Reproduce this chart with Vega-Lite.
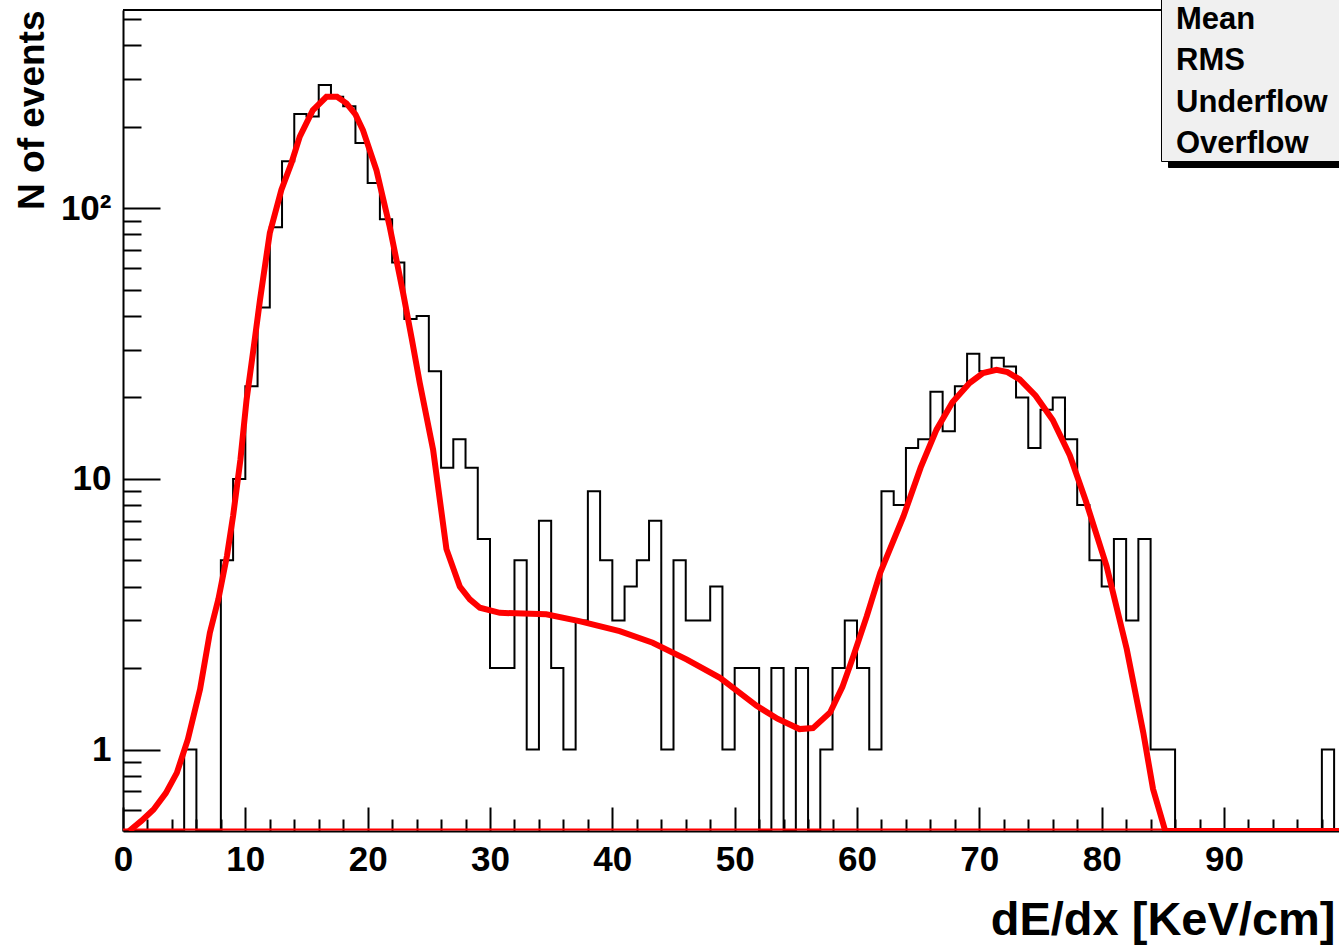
{
  "$schema": "https://vega.github.io/schema/vega-lite/v6.json",
  "width": 1216,
  "height": 821,
  "autosize": {"type": "none"},
  "padding": {"left": 123, "top": 10, "right": 0, "bottom": 115},
  "background": "white",
  "config": {"view": {"stroke": null}, "font": "Liberation Sans"},
  "datasets": {
    "hist": [
      {"x": 0, "n": 0}, {"x": 1, "n": 0}, {"x": 2, "n": 0}, {"x": 3, "n": 0}, {"x": 4, "n": 0},
      {"x": 5, "n": 1}, {"x": 6, "n": 0}, {"x": 7, "n": 0}, {"x": 8, "n": 5}, {"x": 9, "n": 10},
      {"x": 10, "n": 22}, {"x": 11, "n": 43}, {"x": 12, "n": 85}, {"x": 13, "n": 149}, {"x": 14, "n": 223},
      {"x": 15, "n": 218}, {"x": 16, "n": 285}, {"x": 17, "n": 258}, {"x": 18, "n": 238}, {"x": 19, "n": 174},
      {"x": 20, "n": 124}, {"x": 21, "n": 91}, {"x": 22, "n": 63}, {"x": 23, "n": 39}, {"x": 24, "n": 40},
      {"x": 25, "n": 25}, {"x": 26, "n": 11}, {"x": 27, "n": 14}, {"x": 28, "n": 11}, {"x": 29, "n": 6},
      {"x": 30, "n": 2}, {"x": 31, "n": 2}, {"x": 32, "n": 5}, {"x": 33, "n": 1}, {"x": 34, "n": 7},
      {"x": 35, "n": 2}, {"x": 36, "n": 1}, {"x": 37, "n": 3}, {"x": 38, "n": 9}, {"x": 39, "n": 5},
      {"x": 40, "n": 3}, {"x": 41, "n": 4}, {"x": 42, "n": 5}, {"x": 43, "n": 7}, {"x": 44, "n": 1},
      {"x": 45, "n": 5}, {"x": 46, "n": 3}, {"x": 47, "n": 3}, {"x": 48, "n": 4}, {"x": 49, "n": 1},
      {"x": 50, "n": 2}, {"x": 51, "n": 2}, {"x": 52, "n": 0}, {"x": 53, "n": 2}, {"x": 54, "n": 0},
      {"x": 55, "n": 2}, {"x": 56, "n": 0}, {"x": 57, "n": 1}, {"x": 58, "n": 2}, {"x": 59, "n": 3},
      {"x": 60, "n": 2}, {"x": 61, "n": 1}, {"x": 62, "n": 9}, {"x": 63, "n": 8}, {"x": 64, "n": 13},
      {"x": 65, "n": 14}, {"x": 66, "n": 21}, {"x": 67, "n": 15}, {"x": 68, "n": 22}, {"x": 69, "n": 29},
      {"x": 70, "n": 25}, {"x": 71, "n": 28}, {"x": 72, "n": 26}, {"x": 73, "n": 20}, {"x": 74, "n": 13},
      {"x": 75, "n": 18}, {"x": 76, "n": 20}, {"x": 77, "n": 14}, {"x": 78, "n": 8}, {"x": 79, "n": 5},
      {"x": 80, "n": 4}, {"x": 81, "n": 6}, {"x": 82, "n": 3}, {"x": 83, "n": 6}, {"x": 84, "n": 1},
      {"x": 85, "n": 1}, {"x": 86, "n": 0}, {"x": 87, "n": 0}, {"x": 88, "n": 0}, {"x": 89, "n": 0},
      {"x": 90, "n": 0}, {"x": 91, "n": 0}, {"x": 92, "n": 0}, {"x": 93, "n": 0}, {"x": 94, "n": 0},
      {"x": 95, "n": 0}, {"x": 96, "n": 0}, {"x": 97, "n": 0}, {"x": 98, "n": 1}, {"x": 99, "n": 0}
    ],
    "fit": [
      {"x": 0.5, "f": 0.5}, {"x": 1.5, "f": 0.545}, {"x": 2.5, "f": 0.6}, {"x": 3.5, "f": 0.69},
      {"x": 4.4, "f": 0.82}, {"x": 5.3, "f": 1.09}, {"x": 6.3, "f": 1.67}, {"x": 7.1, "f": 2.7},
      {"x": 7.8, "f": 3.6}, {"x": 8.5, "f": 5.2}, {"x": 9.0, "f": 7.3}, {"x": 9.6, "f": 11.8},
      {"x": 10.1, "f": 19.6}, {"x": 10.7, "f": 31}, {"x": 11.2, "f": 45.9}, {"x": 12.0, "f": 81},
      {"x": 12.95, "f": 117}, {"x": 13.77, "f": 147}, {"x": 14.45, "f": 184}, {"x": 15.51, "f": 230},
      {"x": 16.63, "f": 258}, {"x": 17.5, "f": 258}, {"x": 18.27, "f": 244}, {"x": 19.0, "f": 222},
      {"x": 19.62, "f": 194}, {"x": 20.72, "f": 138}, {"x": 21.8, "f": 85.5}, {"x": 22.9, "f": 48.6},
      {"x": 23.6, "f": 33}, {"x": 24.26, "f": 22.6}, {"x": 25.35, "f": 12.8}, {"x": 26.44, "f": 5.5},
      {"x": 27.53, "f": 4.0}, {"x": 28.35, "f": 3.59}, {"x": 29.17, "f": 3.34}, {"x": 30.8, "f": 3.2},
      {"x": 34.6, "f": 3.16}, {"x": 37.3, "f": 2.98}, {"x": 40.6, "f": 2.74}, {"x": 43.3, "f": 2.48},
      {"x": 46.1, "f": 2.15}, {"x": 48.8, "f": 1.84}, {"x": 51.8, "f": 1.45}, {"x": 53.5, "f": 1.3},
      {"x": 55.3, "f": 1.19}, {"x": 56.4, "f": 1.2}, {"x": 57.8, "f": 1.37}, {"x": 58.8, "f": 1.7},
      {"x": 59.7, "f": 2.21}, {"x": 60.8, "f": 3.11}, {"x": 61.9, "f": 4.5}, {"x": 63.8, "f": 7.28},
      {"x": 65.2, "f": 11}, {"x": 66.5, "f": 15.2}, {"x": 67.8, "f": 19.2}, {"x": 69.2, "f": 22.6},
      {"x": 70.3, "f": 24.6}, {"x": 71.4, "f": 25.3}, {"x": 72.3, "f": 24.8}, {"x": 73.3, "f": 23.3},
      {"x": 74.6, "f": 20.3}, {"x": 76.0, "f": 16.5}, {"x": 77.4, "f": 12.2}, {"x": 78.7, "f": 8.3},
      {"x": 80.4, "f": 4.76}, {"x": 82.05, "f": 2.35}, {"x": 83.4, "f": 1.155}, {"x": 84.2, "f": 0.714},
      {"x": 85.2, "f": 0.5}, {"x": 100, "f": 0.5}
    ],
    "stats": [{"stat": "Mean"}, {"stat": "RMS"}, {"stat": "Underflow"}, {"stat": "Overflow"}]
  },
  "layer": [
    {
      "data": {"name": "hist"},
      "mark": {"type": "line", "interpolate": "step-after", "color": "black", "strokeWidth": 2, "clip": true},
      "encoding": {
        "x": {
          "field": "x", "type": "quantitative",
          "scale": {"domain": [0, 99.4], "nice": false, "zero": false},
          "axis": {
            "values": [0,2,4,6,8,10,12,14,16,18,20,22,24,26,28,30,32,34,36,38,40,42,44,46,48,50,52,54,56,58,60,62,64,66,68,70,72,74,76,78,80,82,84,86,88,90,92,94,96,98],
            "tickCount": 200,
            "format": "d",
            "labelExpr": "datum.value % 10 == 0 ? datum.label : ''",
            "labelOverlap": false, "labelFlush": false,
            "labelFont": "Liberation Sans", "labelFontWeight": "bold", "labelFontSize": 35, "labelColor": "black",
            "labelPadding": 35,
            "tickSize": {"condition": {"test": "datum.value % 10 == 0", "value": -24}, "value": -12},
            "tickWidth": 2, "tickColor": "black",
            "domainWidth": 2, "domainColor": "black",
            "grid": false,
            "title": "dE/dx [KeV/cm]",
            "titleFont": "Liberation Sans", "titleFontWeight": "bold", "titleFontSize": 47, "titleColor": "black",
            "titleAnchor": "end", "titleAlign": "right", "titleBaseline": "alphabetic",
            "titleX": 1212, "titleY": 103
          }
        },
        "y": {
          "field": "n", "type": "quantitative",
          "scale": {"type": "log", "domain": [0.5, 540], "nice": false, "clamp": true},
          "axis": {
            "values": [0.6,0.7,0.8,0.9,1,2,3,4,5,6,7,8,9,10,20,30,40,50,60,70,80,90,100,200,300,400,500],
            "tickCount": 200,
            "labelExpr": "datum.value == 100 ? '10²' : (datum.value == 10 ? '10' : (datum.value == 1 ? '1' : ''))",
            "labelOverlap": false, "labelFlush": false,
            "labelFont": "Liberation Sans", "labelFontWeight": "bold", "labelFontSize": 35, "labelColor": "black",
            "labelPadding": 49,
            "tickSize": {"condition": {"test": "datum.value == 1 || datum.value == 10 || datum.value == 100", "value": -37}, "value": -18},
            "tickWidth": 2, "tickColor": "black",
            "domainWidth": 2, "domainColor": "black",
            "grid": false,
            "title": "N of events",
            "titleFont": "Liberation Sans", "titleFontWeight": "bold", "titleFontSize": 37, "titleColor": "black",
            "titleAnchor": "end", "titleAlign": "right", "titleAngle": 270, "titleBaseline": "alphabetic",
            "titleX": -80, "titleY": 0
          }
        }
      }
    },
    {
      "data": {"name": "fit"},
      "mark": {"type": "line", "color": "#ff0000", "strokeWidth": 6, "clip": true},
      "encoding": {
        "x": {"field": "x", "type": "quantitative"},
        "y": {"field": "f", "type": "quantitative"}
      }
    },
    {
      "data": {"values": [{}]},
      "mark": {"type": "rule", "color": "#ff0000", "strokeWidth": 2, "yOffset": -1.5},
      "encoding": {"y": {"datum": 0.5}}
    },
    {
      "data": {"values": [{}]},
      "mark": {"type": "rule", "color": "black", "strokeWidth": 2},
      "encoding": {"y": {"datum": 540}}
    },
    {
      "data": {"name": "stats"},
      "mark": {"type": "point", "opacity": 0},
      "encoding": {
        "color": {
          "field": "stat", "type": "nominal",
          "scale": {"domain": ["Overflow", "Underflow", "RMS", "Mean"], "range": ["black", "black", "black", "black"]},
          "legend": {
            "orient": "none", "legendX": 1045, "legendY": -12,
            "title": " ", "titleFontSize": 1, "titlePadding": 8, "titleOpacity": 0,
            "labelExpr": "''", "labelFontSize": 31,
            "symbolType": "square", "symbolSize": 961, "symbolOpacity": 1, "symbolStrokeWidth": 0,
            "symbolFillColor": "black", "symbolOffset": 220,
            "labelOffset": -18, "padding": 2, "rowPadding": 9.5,
            "fillColor": "black", "strokeColor": "black"
          }
        },
        "shape": {
          "field": "stat", "type": "nominal",
          "scale": {"domain": ["Mean", "RMS", "Underflow", "Overflow"]},
          "legend": {
            "orient": "none", "legendX": 1038, "legendY": -17,
            "title": " ", "titleFontSize": 1, "titlePadding": 8,
            "labelFont": "Liberation Sans", "labelFontWeight": "bold", "labelFontSize": 31, "labelColor": "black",
            "labelLimit": 0,
            "symbolSize": 1, "symbolOpacity": 0, "symbolStrokeWidth": 0, "symbolOffset": 220,
            "labelOffset": -238, "padding": 2, "rowPadding": 9.5,
            "fillColor": "#f0f0f0", "strokeColor": "black"
          }
        }
      }
    }
  ]
}
